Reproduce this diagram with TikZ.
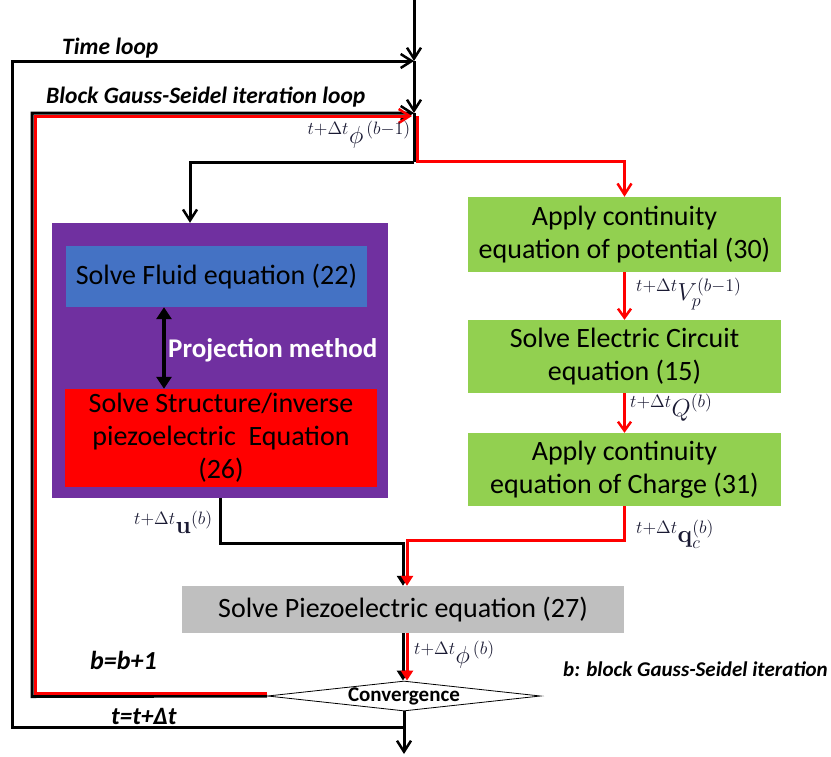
\documentclass[tikz,border=0pt]{standalone}
\usepackage{fix-cm}
\usepackage[no-math]{fontspec}
\setmainfont{Carlito}
\usetikzlibrary{shapes.geometric,arrows.meta}
\DeclareMathSizes{22}{22}{16}{12}
\definecolor{cpurple}{HTML}{7030A0}
\definecolor{cblue}{HTML}{4472C4}
\definecolor{cgreen}{HTML}{92D050}
\definecolor{cgray}{HTML}{BFBFBF}
\definecolor{cred}{HTML}{FF0000}
\definecolor{cnavy}{HTML}{1A1A33}
\tikzset{
  box/.style={rectangle, inner sep=0pt, align=center, font=\fontsize{28}{33}\selectfont},
  blk/.style={line width=3pt, black},
  rd/.style={line width=3pt, cred},
  barb/.style={-{Straight Barb[length=11pt,width=14pt,line width=2.5pt]}},
  rbarb/.style={-{Straight Barb[length=9pt,width=13pt,line width=2.5pt]}},
  tri/.style={-{Triangle[length=10pt,width=12pt]}},
  dbl/.style={line width=4pt, {Triangle[length=12pt,width=15pt]}-{Triangle[length=12pt,width=15pt]}},
  lbl/.style={font=\fontsize{22}{26}\selectfont, inner sep=0pt, text=cnavy, scale=1.12},
  loopl/.style={font=\fontsize{23.5}{27}\selectfont\bfseries\itshape, inner sep=0pt, anchor=base west}
}
\begin{document}
\begin{tikzpicture}[x=1pt,y=-1pt]
\useasboundingbox (0,0) rectangle (831,756);
% boxes
\node[box, fill=cpurple, minimum width=336pt, minimum height=275pt] (coupled) at (220,360.5) {};
\node[box, fill=cblue, minimum width=301pt, minimum height=61pt] (fluid) at (216.5,276.5) {Solve Fluid equation (22)};
\node[box, fill=cred, minimum width=312pt, minimum height=98pt] (struct) at (221,438) {Solve Structure/inverse\\piezoelectric\ \ Equation\\(26)};
\node[box, fill=cgreen, minimum width=313pt, minimum height=75pt] (cont1) at (624.5,234.5) {Apply continuity\\equation of potential (30)};
\node[box, fill=cgreen, minimum width=313pt, minimum height=73pt] (circ) at (624.5,356.5) {Solve Electric Circuit\\equation (15)};
\node[box, fill=cgreen, minimum width=313pt, minimum height=73pt] (cont2) at (624.5,469.5) {Apply continuity\\equation of Charge (31)};
\node[box, fill=cgray, minimum width=442pt, minimum height=47pt] (piezo) at (403,609.5) {Solve Piezoelectric equation (27)};
\node[diamond, draw, fill=white, line width=0.8pt, aspect=9, inner sep=0pt, minimum width=273pt, minimum height=30pt, font=\fontsize{21}{24}\selectfont\bfseries] (conv) at (404,696) {Convergence};
% projection method
\coordinate (pmx) at (164,0);
\draw[dbl] (pmx |- fluid.south) -- (pmx |- struct.north);
\node[font=\fontsize{27}{30}\selectfont\bfseries, text=white, anchor=west, inner sep=0pt] (pm) at (168,350) {Projection method};
% coordinates
\coordinate (top) at (414,0);
\coordinate (j1) at (414,61);
\coordinate (j2) at (414,113);
\coordinate (j3) at (414,162);
\coordinate (tlc1) at (12,727);
\coordinate (tlc2) at (12,61);
\coordinate (tlb) at (404,727);
\coordinate (bot) at (404,754);
\coordinate (gc1) at (32,696.5);
\coordinate (gc2) at (32,113);
\coordinate (rc0) at (267,693.5);
\coordinate (rc1) at (35,693.5);
\coordinate (rc2) at (35,116);
\coordinate (rc3) at (412,116);
\coordinate (rv1) at (417.5,116);
\coordinate (rv2) at (417.5,161);
\coordinate (rv3) at (624.5,161);
\coordinate (bx) at (190,162);
\coordinate (bu) at (220,543);
\coordinate (bu2) at (403,543);
\coordinate (rq) at (624.5,540);
\coordinate (rq2) at (407,540);
% main flow
\draw[blk,barb] (top) -- (j1);
\draw[blk,barb] (j1) -- (j2);
\draw[blk] (j2) -- (j3);
\draw[blk,barb] (tlb) -- (tlc1) -- (tlc2) -- (j1);
\draw[blk,barb] (conv.west) -- (gc1) -- (gc2) -- (j2);
\draw[rd,barb] (rc0) -- (rc1) -- (rc2) -- (rc3);
\draw[rd,barb] (rv1) -- (rv2) -- (rv3) -- (cont1.north);
\draw[blk,barb] (j3) -- (bx) -- (bx |- coupled.north);
\draw[rd,rbarb] (cont1) -- (circ);
\draw[rd,rbarb] (circ) -- (cont2);
\draw[blk,tri] (coupled.south -| bu) -- (bu) -- (bu2) -- (bu2 |- piezo.north);
\draw[rd,tri] (cont2.south) -- (rq) -- (rq2) -- (rq2 |- piezo.north);
\draw[blk,tri] (bu2 |- piezo.south) -- (bu2 |- conv.north);
\draw[rd,tri] (rq2 |- piezo.south) -- (rq2 |- conv.north);
\draw[blk,barb] (conv.south) -- (bot);
% math labels
\node[lbl, anchor=north east] (l1) at (411,121) {${}^{t+\Delta t}\phi^{\,(b-1)}$};
\node[lbl, anchor=west] (l2) at (636,294) {${}^{t+\Delta t}V_p^{(b-1)}$};
\node[lbl, anchor=west] (l3) at (630,408) {${}^{t+\Delta t}Q^{(b)}$};
\node[lbl, anchor=east] (l4) at (213,522) {${}^{t+\Delta t}\mathbf{u}^{(b)}$};
\node[lbl, anchor=west] (l5) at (636,534) {${}^{t+\Delta t}\mathbf{q}_c^{(b)}$};
\node[lbl, anchor=west] (l6) at (414,655) {${}^{t+\Delta t}\phi^{\,(b)}$};
% loop labels
\node[loopl] (tl) at (62,54) {Time loop};
\node[loopl] (bl) at (46,103) {Block Gauss-Seidel iteration loop};
\node[loopl, font=\fontsize{26}{30}\selectfont\bfseries\itshape] (bb) at (90,669) {b=b+1};
\node[loopl, font=\fontsize{25}{30}\selectfont\bfseries\itshape] (tt) at (111,724) {t=t+Δt};
\node[loopl, font=\fontsize{21}{24}\selectfont\bfseries\itshape] (note) at (563,676) {b: block Gauss-Seidel iteration};
\end{tikzpicture}
\end{document}
